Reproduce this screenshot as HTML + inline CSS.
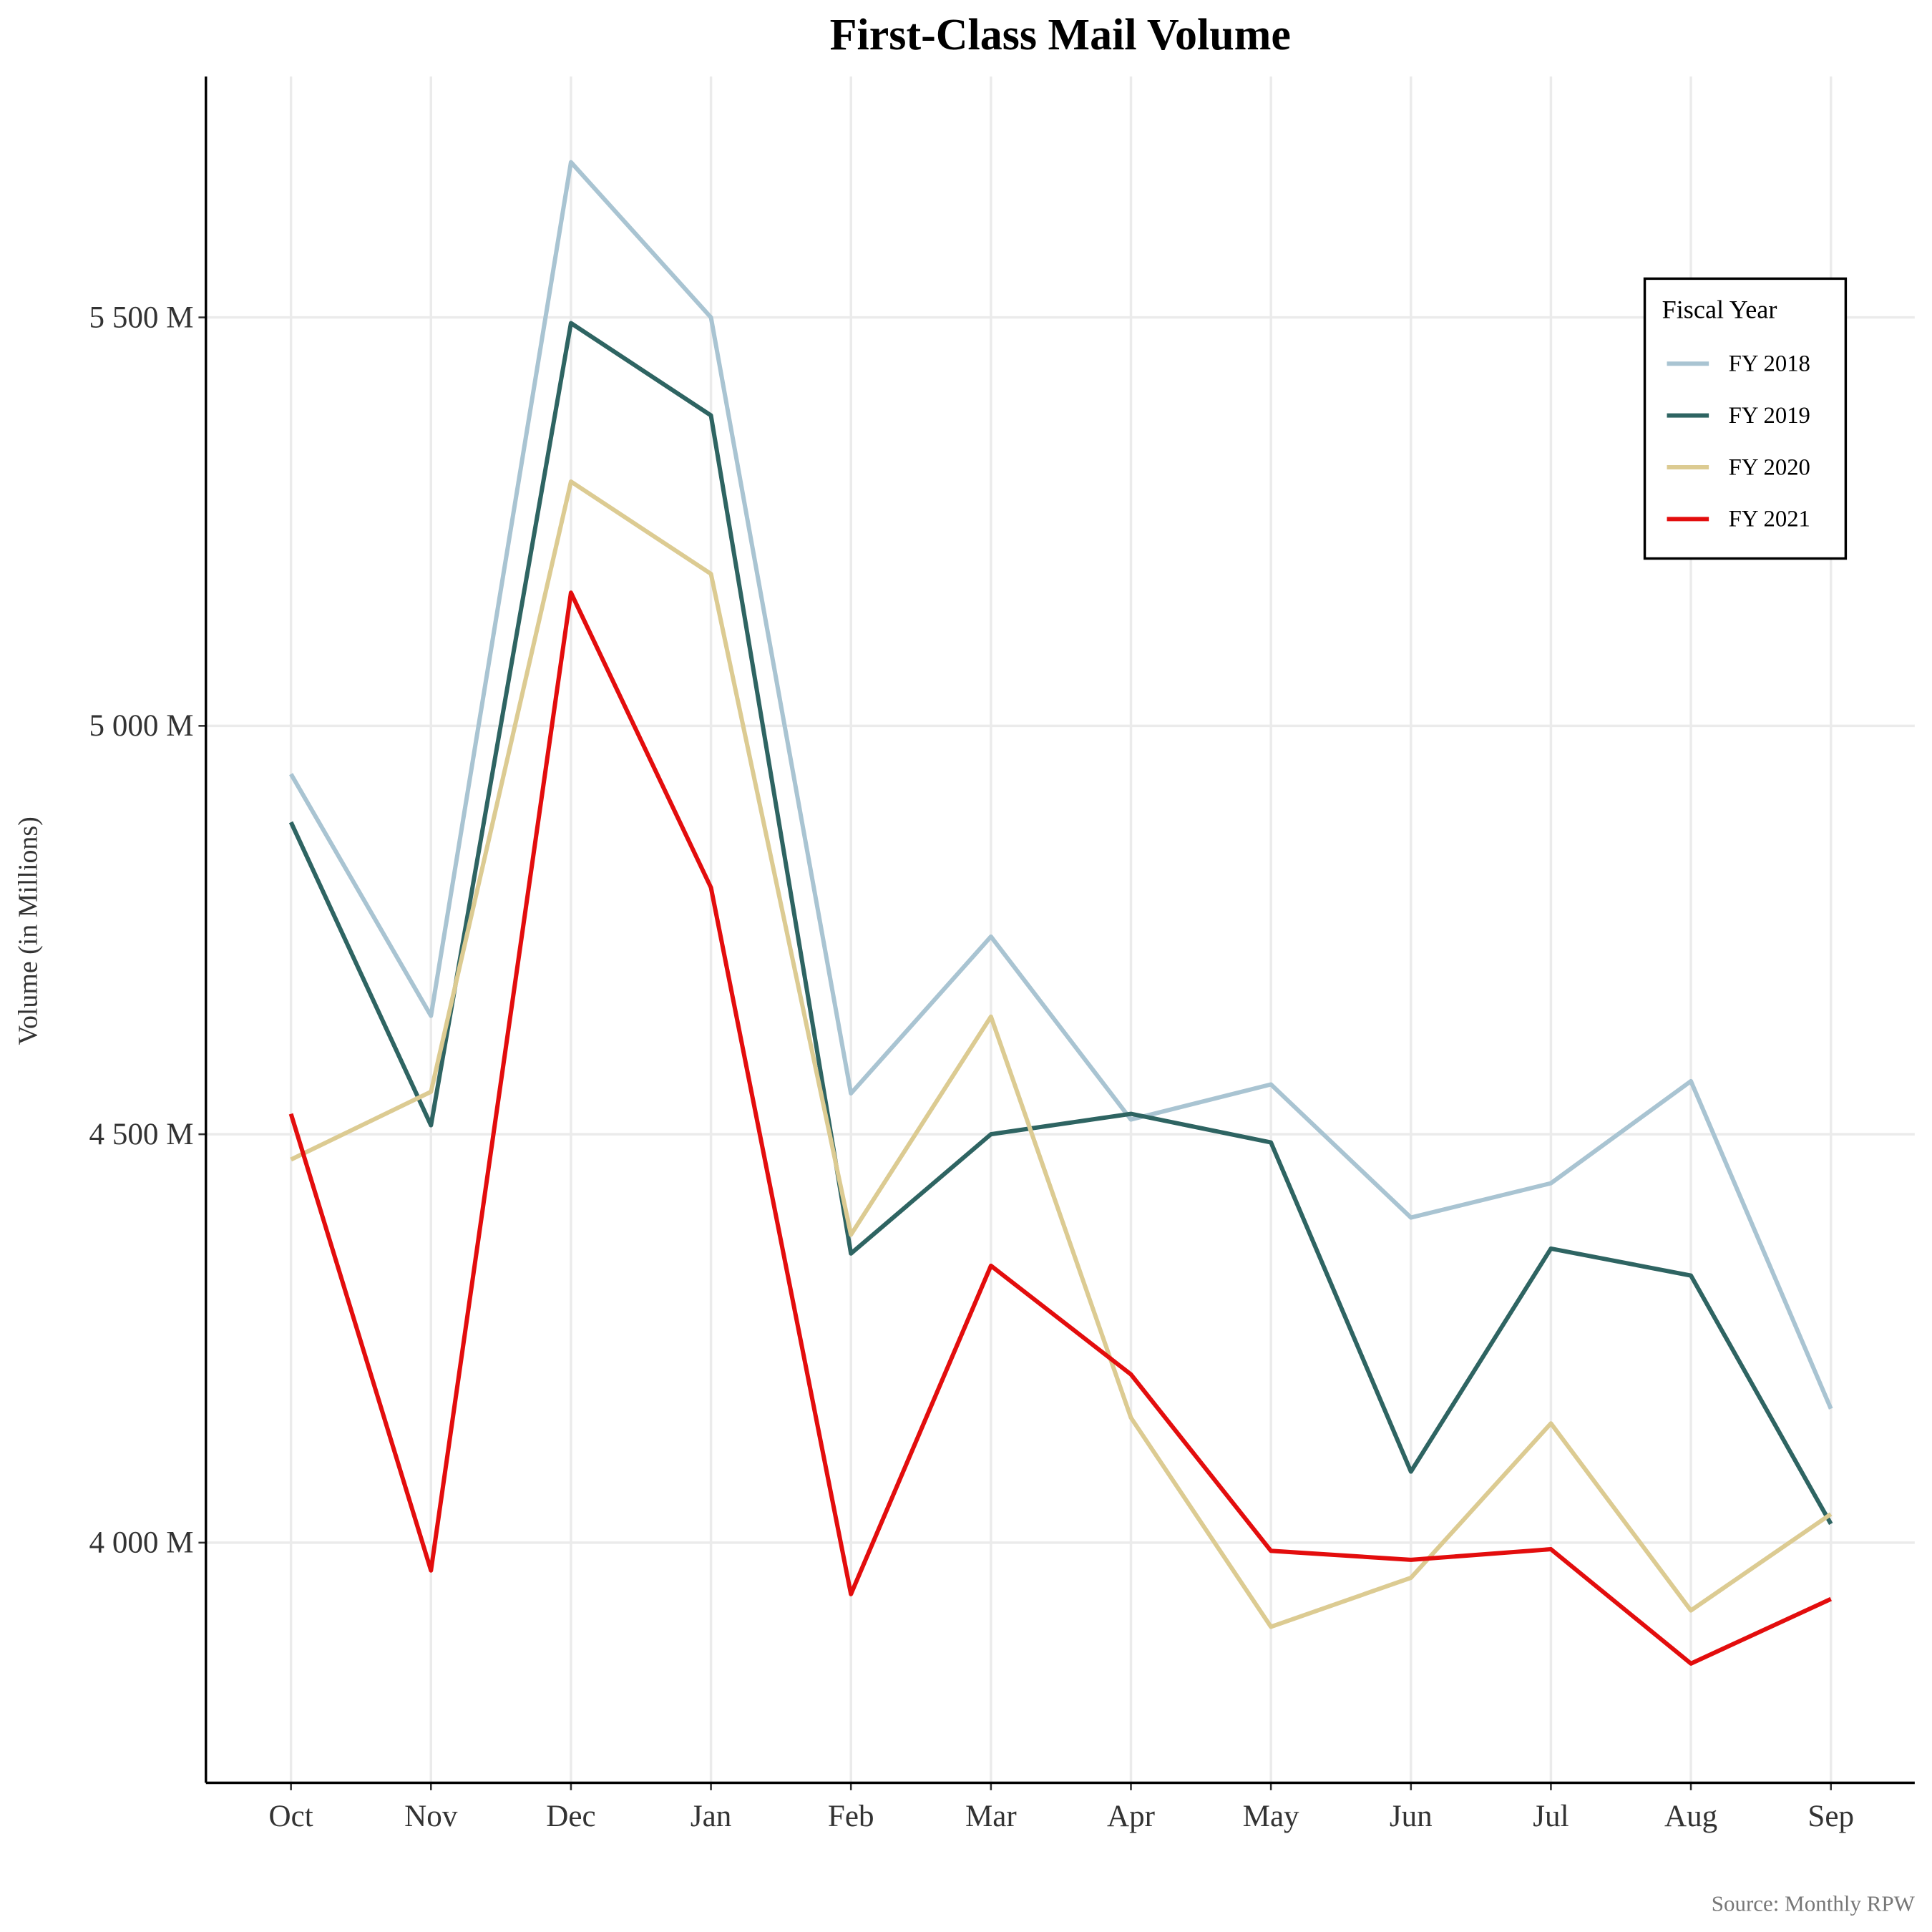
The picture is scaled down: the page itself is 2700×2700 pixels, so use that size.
<!DOCTYPE html>
<html><head><meta charset="utf-8"><style>
html,body{margin:0;padding:0;background:#fff}
svg{display:block}
text{font-family:"Liberation Serif",serif}
</style></head><body>
<svg id="chart" width="2700" height="2700" viewBox="0 0 1567 1567" xmlns="http://www.w3.org/2000/svg">
<text x="860" y="40" text-anchor="middle" font-size="36" font-weight="bold" fill="#000">First-Class Mail Volume</text>
<g id="grid"></g>
<g id="series"></g>
<g id="axes"></g>
<text transform="translate(30,755) rotate(-90)" text-anchor="middle" font-size="22" fill="#333">Volume (in Millions)</text>
<text x="1553" y="1550" text-anchor="end" font-size="18" fill="#777">Source: Monthly RPW</text>
<g>
<rect x="1334" y="226" width="163" height="227" fill="#fff" stroke="#000" stroke-width="2"/>
<text x="1348" y="258" font-size="21" fill="#000">Fiscal Year</text>
<g id="legend-items"></g>
</g>
</svg>
<script>
const months = ["Oct","Nov","Dec","Jan","Feb","Mar","Apr","May","Jun","Jul","Aug","Sep"];
const seriesNames = ["FY 2018","FY 2019","FY 2020","FY 2021"];
const seriesColors = ["#a9c4d2","#2e6462","#dccb92","#e30d0d"];
const fy2018 = [4941,4645,5690,5500,4550,4742,4518,4561,4398,4440,4565,4164];
const fy2019 = [4882,4511,5493,5380,4354,4500,4525,4490,4087,4360,4327,4023];
const fy2020 = [4469,4552,5299,5186,4377,4644,4153,3897,3957,4146,3917,4035];
const fy2021 = [4525,3966,5163,4802,3937,4339,4206,3990,3979,3992,3852,3931];
const yTicks = [4000,4500,5000,5500];
const yTickLabels = ["4 000 M","4 500 M","5 000 M","5 500 M"];

const NS="http://www.w3.org/2000/svg";
const L=167,R=1553,T=62,B=1446;
const yMin=3706,yMax=5795;
const x=i=>236+i*(1485-236)/(months.length-1);
const y=v=>B-(v-yMin)/(yMax-yMin)*(B-T);
function mk(tag,attrs,parent){const e=document.createElementNS(NS,tag);for(const k in attrs)e.setAttribute(k,attrs[k]);parent.appendChild(e);return e;}
const grid=document.getElementById('grid'),axes=document.getElementById('axes'),ser=document.getElementById('series');
months.forEach((m,i)=>{
  const g=mk('line',{x1:x(i),x2:x(i),y1:T,y2:B,stroke:'#ebebeb','stroke-width':2},grid);
  
  
  mk('line',{x1:x(i),x2:x(i),y1:B,y2:B+6,stroke:'#333','stroke-width':1.5},axes);
  const t=mk('text',{x:x(i),y:B+35,'text-anchor':'middle','font-size':25,fill:'#333'},axes);
  t.textContent=m;
  
  
});
yTicks.forEach((v,i)=>{
  const g=mk('line',{x1:L,x2:R,y1:y(v),y2:y(v),stroke:'#ebebeb','stroke-width':2},grid);
  
  
  mk('line',{x1:L-6,x2:L,y1:y(v),y2:y(v),stroke:'#333','stroke-width':1.5},axes);
  const t=mk('text',{x:L-10,y:y(v)+8,'text-anchor':'end','font-size':25,fill:'#333'},axes);
  t.textContent=yTickLabels[i];
  
  
});
mk('line',{x1:L,x2:L,y1:T,y2:B,stroke:'#000','stroke-width':2},axes);
mk('line',{x1:L,x2:R,y1:B,y2:B,stroke:'#000','stroke-width':2},axes);
[fy2018,fy2019,fy2020,fy2021].forEach((d,s)=>{
  const p=mk('polyline',{points:d.map((v,i)=>x(i)+','+y(v)).join(' '),fill:'none',stroke:seriesColors[s],'stroke-width':3.5,'stroke-linejoin':'round'},ser);
  
  
});
const li=document.getElementById('legend-items');
seriesNames.forEach((n,s)=>{
  const yy=295+s*42;
  mk('line',{x1:1352,x2:1386,y1:yy,y2:yy,stroke:seriesColors[s],'stroke-width':3.5},li);
  const t=mk('text',{x:1402,y:yy+6,'font-size':19,fill:'#000'},li);
  t.textContent=n;
  
  
});
</script>
</body></html>
